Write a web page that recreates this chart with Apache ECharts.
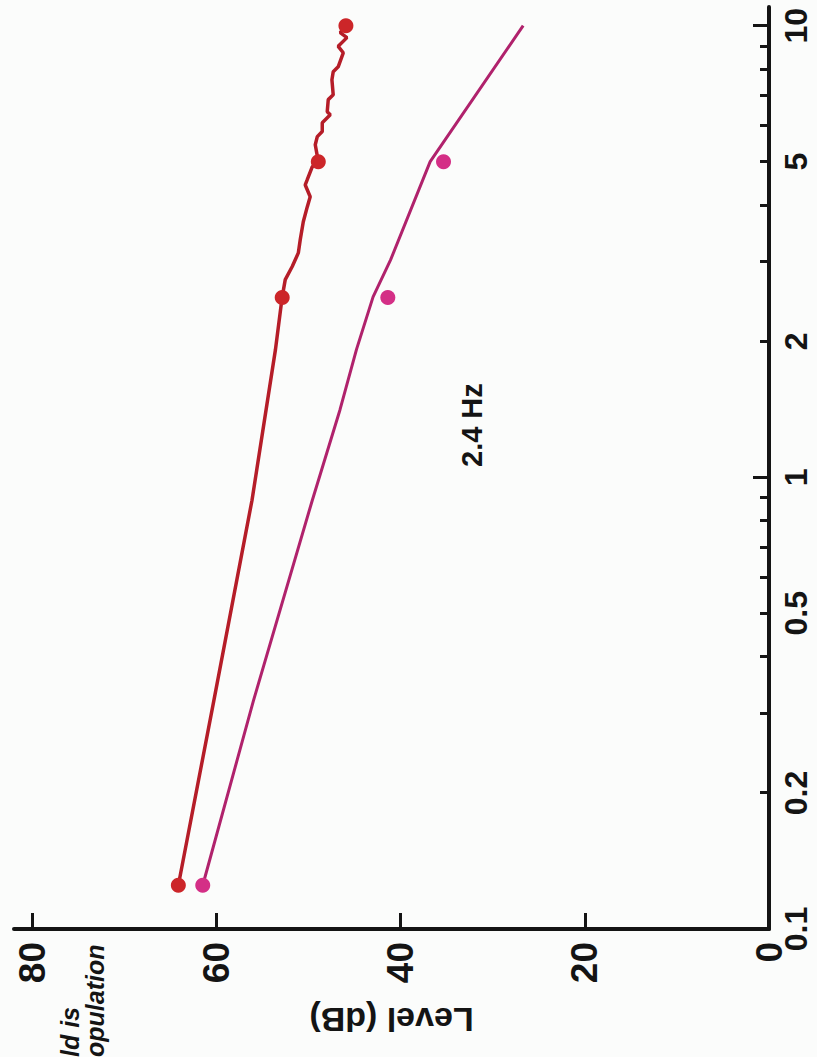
<!DOCTYPE html>
<html>
<head>
<meta charset="utf-8">
<script src="https://cdn.jsdelivr.net/npm/echarts@6.0.0/dist/echarts.min.js"></script>
<style>
html, body {
  margin: 0;
  padding: 0;
  width: 817px;
  height: 1057px;
  overflow: hidden;
  background: #fbfcfb;
}
/* the chart is drawn upright and turned a quarter turn, like the scanned page */
#chart {
  position: absolute;
  left: 0;
  top: 0;
  width: 1057px;
  height: 817px;
  transform-origin: 0 0;
  transform: translateY(1057px) rotate(-90deg);
}
</style>
</head>
<body>
<div id="chart"></div>
<script>
// axis ticks and labels
const freqTicks = [0.1, 0.2, 0.3, 0.4, 0.5, 0.6, 0.7, 0.8, 0.9, 1, 2, 3, 4, 5, 6, 7, 8, 9, 10]
const freqDecades = [0.1, 1, 10]
const freqLabels = [0.1, 0.2, 0.5, 1, 2, 5, 10]
const levelTicks = [0, 20, 40, 60, 80]

// red curve (fine resolution) and its dots
const redFreq = [0.125, 0.32, 0.89, 1.92, 2.51, 2.74, 2.93, 3.14, 3.36, 3.68, 3.97, 4.18, 4.44, 4.56, 4.87, 5.0, 5.45, 5.68, 5.83, 6.1, 6.35, 6.45, 6.86, 7.03, 7.59, 7.91, 8.11, 8.71, 9.0, 9.41, 9.65, 10.0]
const redLevel = [64.15, 60.3, 56.15, 53.6, 52.87, 52.54, 51.78, 51.12, 50.91, 50.58, 50.15, 49.83, 50.37, 50.15, 49.61, 48.95, 49.28, 49.06, 48.52, 48.52, 47.65, 47.98, 47.87, 47.33, 47.47, 47.33, 46.79, 46.24, 46.79, 45.84, 46.57, 45.95]
const redDotFreq = [0.125, 2.5, 5, 10]
const redDotLevel = [64.15, 52.87, 48.95, 45.95]

// magenta curve and its dots
const pinkFreq = [0.125, 0.32, 0.89, 1.41, 1.92, 2.51, 3.03, 5.0, 10.0]
const pinkLevel = [61.5, 56.0, 49.6, 46.6, 44.8, 43.0, 41.1, 36.8, 26.7]
const pinkDotFreq = [0.125, 2.5, 5]
const pinkDotLevel = [61.5, 41.4, 35.35]

const zip = (a, b) => a.map((v, i) => [v, b[i]])

const fontFamily = '"Liberation Sans", Arial, sans-serif'
const ink = '#141414'

const chart = echarts.init(document.getElementById('chart'), null, { renderer: 'svg' })

const option = {
  animation: false,
  backgroundColor: 'transparent',
  title: {
    text: '2.4 Hz',
    left: 585,
    top: 452,
    textStyle: { fontSize: 29, fontWeight: 'bold', color: ink, fontFamily }
  },
  graphic: [
    {
      type: 'text',
      left: 0,
      top: 57,
      style: { text: 'ld is', font: 'italic bold 25px "Liberation Sans", Arial, sans-serif', fill: ink }
    },
    {
      type: 'text',
      left: 0,
      top: 82,
      style: { text: 'opulation', font: 'italic bold 25px "Liberation Sans", Arial, sans-serif', fill: ink }
    }
  ],
  grid: {
    left: 128,
    right: 7,
    top: 14,
    bottom: 48,
    outerBoundsMode: 'none'
  },
  xAxis: [
    {
      type: 'log',
      min: 0.1,
      max: 11,
      position: 'bottom',
      axisLine: { onZero: false, lineStyle: { color: ink, width: 4 } },
      axisTick: {
        show: true,
        inside: true,
        length: 9,
        customValues: freqTicks,
        lineStyle: { color: ink, width: 3 }
      },
      axisLabel: {
        customValues: freqLabels,
        margin: 11,
        fontSize: 32,
        fontWeight: 'bold',
        color: ink,
        fontFamily,
        formatter: v => String(v)
      },
      splitLine: { show: false }
    },
    {
      type: 'log',
      min: 0.1,
      max: 11,
      position: 'bottom',
      axisLine: { show: false, onZero: false },
      axisTick: {
        show: true,
        inside: true,
        length: 16,
        customValues: freqDecades,
        lineStyle: { color: ink, width: 3 }
      },
      axisLabel: { show: false },
      splitLine: { show: false }
    }
  ],
  yAxis: {
    type: 'value',
    min: 0,
    max: 82,
    name: 'Level (dB)',
    nameLocation: 'middle',
    nameGap: 74,
    nameTextStyle: { fontSize: 34, fontWeight: 'bold', color: ink, fontFamily },
    axisLine: { show: true, onZero: false, lineStyle: { color: ink, width: 4 } },
    axisTick: {
      show: true,
      inside: true,
      length: 16,
      customValues: levelTicks,
      lineStyle: { color: ink, width: 3 }
    },
    axisLabel: {
      customValues: levelTicks,
      margin: 13,
      fontSize: 37,
      fontWeight: 'bold',
      color: ink,
      fontFamily
    },
    splitLine: { show: false }
  },
  series: [
    {
      type: 'line',
      data: zip(redFreq, redLevel),
      symbol: 'none',
      lineStyle: { color: '#b51d28', width: 3.5 },
      z: 2
    },
    {
      type: 'line',
      data: zip(pinkFreq, pinkLevel),
      symbol: 'none',
      lineStyle: { color: '#b0226c', width: 3 },
      z: 2
    },
    {
      type: 'scatter',
      data: zip(redDotFreq, redDotLevel),
      symbolSize: 15,
      itemStyle: { color: '#cc2629', opacity: 1 },
      z: 3
    },
    {
      type: 'scatter',
      data: zip(pinkDotFreq, pinkDotLevel),
      symbolSize: 15,
      itemStyle: { color: '#d42f86', opacity: 1 },
      z: 3
    }
  ]
}
option && chart.setOption(option)
</script>
</body>
</html>
